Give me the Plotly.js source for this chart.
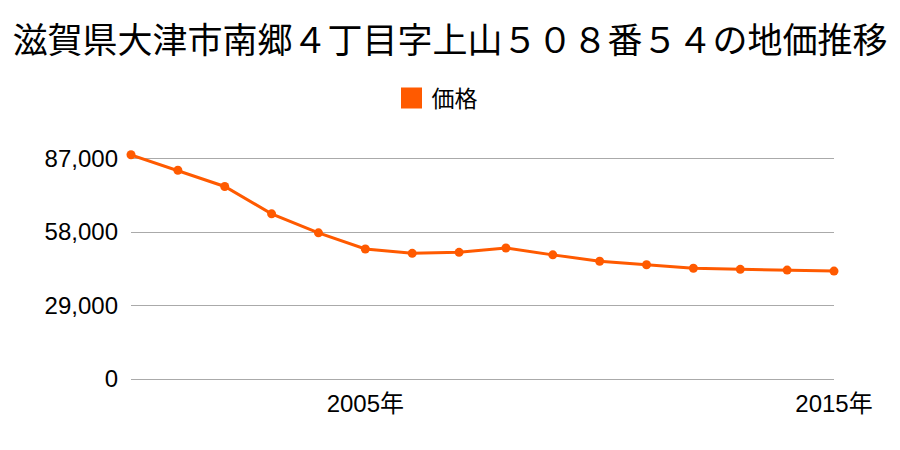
<!DOCTYPE html>
<html>
<head>
<meta charset="utf-8">
<script src="https://cdn.plot.ly/plotly-3.0.1.min.js"></script>
<style>html,body{margin:0;padding:0;background:#fff;}</style>
</head>
<body>
<div id="chart" style="width:900px;height:450px;"></div>
<script>
const years = [2000,2001,2002,2003,2004,2005,2006,2007,2008,2009,2010,2011,2012,2013,2014,2015];
const prices = [88500,82400,76000,65200,57700,51300,49600,50000,51700,49000,46500,45100,43700,43300,43000,42600];
const xTickVals = [2005, 2015];
const xTickText = ['2005年', '2015年'];
const yTickVals = [0, 29000, 58000, 87000];
const seriesName = '価格';
const titleText = '滋賀県大津市南郷４丁目字上山５０８番５４の地価推移';

const color = '#ff5a00';
const fontFam = 'Liberation Sans, Noto Sans CJK JP, sans-serif';

const traces = [
  {
    x: years, y: prices, type: 'scatter', mode: 'lines+markers',
    line: {color: color, width: 3},
    marker: {color: color, size: 9},
    cliponaxis: false,
    showlegend: false,
    hoverinfo: 'x+y'
  },
  {
    x: [null], y: [null], type: 'scatter', mode: 'markers',
    name: seriesName,
    marker: {color: color, symbol: 'square', size: 16, line: {color: color, width: 6}},
    showlegend: true
  }
];

const layout = {
  width: 900, height: 450,
  paper_bgcolor: '#fff', plot_bgcolor: '#fff',
  margin: {l: 131, r: 66, t: 150.6, b: 70.7},
  font: {family: fontFam, color: '#000'},
  title: {
    text: titleText,
    font: {family: 'Noto Sans CJK JP, sans-serif', size: 35, color: '#000'},
    x: 0.5, xanchor: 'center', y: 1 - 41/450, yanchor: 'middle', yref: 'container'
  },
  showlegend: true,
  legend: {
    orientation: 'h', x: 437/900, xanchor: 'center', xref: 'container',
    y: 1 - 98/450, yanchor: 'middle', yref: 'container',
    font: {family: 'Noto Sans CJK JP, sans-serif', size: 23, color: '#000'},
    itemsizing: 'trace'
  },
  xaxis: {
    range: [2000, 2015], showgrid: false, zeroline: false, showline: false,
    tickvals: xTickVals, ticktext: xTickText, ticks: '',
    tickfont: {family: fontFam, size: 24, color: '#000'},
    ticklabelstandoff: 8,
    fixedrange: true
  },
  yaxis: {
    range: [0, 90000], tickvals: yTickVals, tickformat: ',d',
    showgrid: true, gridcolor: '#aaaaaa', gridwidth: 1,
    zeroline: true, zerolinecolor: '#aaaaaa', zerolinewidth: 1,
    showline: false, ticks: '',
    tickfont: {family: fontFam, size: 24, color: '#000'},
    ticklabelstandoff: 12,
    fixedrange: true
  }
};

Plotly.newPlot('chart', traces, layout, {displayModeBar: false, staticPlot: true});
</script>
</body>
</html>
